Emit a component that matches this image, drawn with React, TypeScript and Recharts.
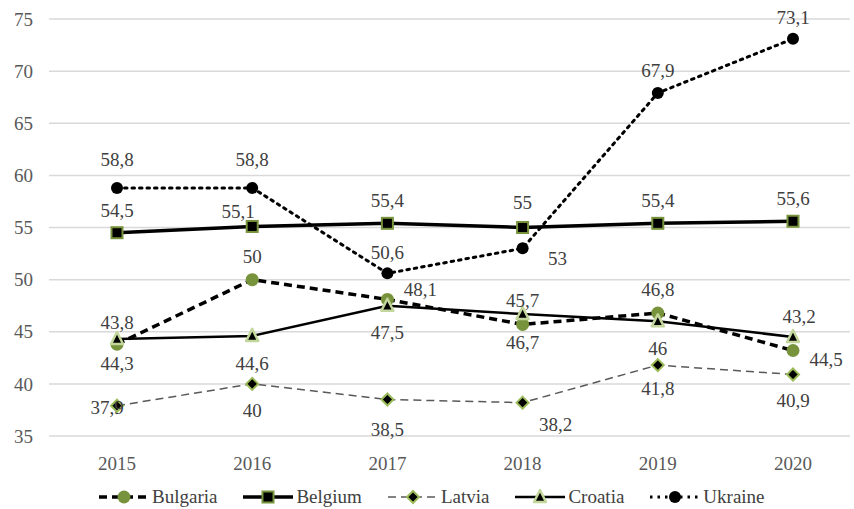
import { CartesianGrid, LabelList, Line, LineChart, XAxis, YAxis } from "recharts";

document.body.style.margin = "0";

const years = ["2015", "2016", "2017", "2018", "2019", "2020"];
const bulgaria = [43.8, 50, 48.1, 45.7, 46.8, 43.2];
const belgium = [54.5, 55.1, 55.4, 55, 55.4, 55.6];
const latvia = [37.9, 40, 38.5, 38.2, 41.8, 40.9];
const croatia = [44.3, 44.6, 47.5, 46.7, 46, 44.5];
const ukraine = [58.8, 58.8, 50.6, 53, 67.9, 73.1];
const yTicks = [35, 40, 45, 50, 55, 60, 65, 70, 75];

const data = years.map((year, i) => ({
  year,
  Bulgaria: bulgaria[i],
  Belgium: belgium[i],
  Latvia: latvia[i],
  Croatia: croatia[i],
  Ukraine: ukraine[i],
}));

// label placement (dx, dy from the point), as placed by hand in the original
const labelOffsets: Record<string, [number, number][]> = {
  Bulgaria: [[0, -22], [0, -23], [33, -10], [0, -24], [0, -23], [6, -34]],
  Belgium: [[0, -22], [-14, -15], [0, -23], [0, -25], [0, -23], [0, -23]],
  Latvia: [[-10, 2], [0, 27], [0, 30], [33, 22], [0, 23], [0, 26]],
  Croatia: [[0, 24], [0, 28], [0, 27], [0, 28], [0, 27], [33, 23]],
  Ukraine: [[0, -28], [0, -28], [0, -21], [35, 10], [0, -23], [0, -21]],
};

const FONT = '"Liberation Serif", "DejaVu Serif", serif';
const TEXT = "#404040";
const GREEN = "#77933C";

const fmt = (v: number) => String(v).replace(".", ",");

function Marker({ kind, cx, cy }: { kind: string; cx: number; cy: number }) {
  if (kind === "Bulgaria") return <circle cx={cx} cy={cy} r={6.5} fill={GREEN} />;
  if (kind === "Belgium")
    return <rect x={cx - 5.5} y={cy - 5.5} width={11} height={11} fill="#000" stroke={GREEN} strokeWidth={2} />;
  if (kind === "Latvia")
    return (
      <polygon
        points={`${cx},${cy - 6} ${cx + 6},${cy} ${cx},${cy + 6} ${cx - 6},${cy}`}
        fill="#000"
        stroke="#9BBB59"
        strokeWidth={2}
      />
    );
  if (kind === "Croatia")
    return (
      <polygon
        points={`${cx},${cy - 7} ${cx + 6},${cy + 5} ${cx - 6},${cy + 5}`}
        fill="#000"
        stroke="#C3D69B"
        strokeWidth={2.5}
        strokeLinejoin="round"
      />
    );
  return <circle cx={cx} cy={cy} r={6} fill="#000" />;
}

const series = [
  { key: "Bulgaria", stroke: "#000", width: 3.5, dash: "8 5" },
  { key: "Belgium", stroke: "#000", width: 3.5, dash: undefined },
  { key: "Latvia", stroke: "#595959", width: 1.5, dash: "8 5" },
  { key: "Croatia", stroke: "#000", width: 2.5, dash: undefined },
  { key: "Ukraine", stroke: "#000", width: 3, dash: "2.5 5" },
];

function makeLabel(key: string) {
  return (props: any) => {
    const { x, y, value, index } = props;
    if (x == null || y == null) return null;
    const [dx, dy] = labelOffsets[key][index] ?? [0, -20];
    return (
      <text
        key={`${key}-${index}`}
        x={Number(x) + dx}
        y={Number(y) + dy}
        textAnchor="middle"
        dominantBaseline="central"
        style={{ fontFamily: FONT, fontSize: 19 }}
        fill={TEXT}
      >
        {fmt(Number(value))}
      </text>
    );
  };
}

function LegendIcon({ s }: { s: (typeof series)[number] }) {
  return (
    <svg width={52} height={16} style={{ display: "block" }}>
      <line x1={1} y1={8} x2={51} y2={8} stroke={s.stroke} strokeWidth={s.width} strokeDasharray={s.dash} />
      <Marker kind={s.key} cx={26} cy={8} />
    </svg>
  );
}

export default function App() {
  return (
    <div style={{ position: "relative", width: 854, height: 509, background: "#fff", fontFamily: FONT }}>
      <LineChart width={854} height={509} data={data} margin={{ top: 19, right: 4, bottom: 0, left: 0 }}>
        <CartesianGrid vertical={false} stroke="#d9d9d9" strokeWidth={1.5} />
        <XAxis
          dataKey="year"
          axisLine={false}
          tickLine={false}
          tickSize={0}
          tickMargin={21}
          height={73}
          padding={{ left: 68, right: 57 }}
          tick={{ fontFamily: FONT, fontSize: 19, fill: "#595959" }}
        />
        <YAxis
          domain={[35, 75]}
          ticks={yTicks}
          axisLine={false}
          tickLine={false}
          tickSize={0}
          tickMargin={16}
          width={49}
          tick={{ fontFamily: FONT, fontSize: 19, fill: "#595959" }}
        />
        {series.map((s) => (
          <Line
            key={s.key}
            dataKey={s.key}
            stroke={s.stroke}
            strokeWidth={s.width}
            strokeDasharray={s.dash}
            strokeLinecap={s.key === "Ukraine" ? "round" : "butt"}
            dot={(p: any) => <Marker key={`${s.key}-d-${p.index}`} kind={s.key} cx={p.cx} cy={p.cy} />}
            activeDot={false}
            isAnimationActive={false}
          >
            <LabelList dataKey={s.key} content={makeLabel(s.key)} />
          </Line>
        ))}
      </LineChart>
      <div
        style={{
          position: "absolute",
          left: 98,
          top: 486,
          display: "flex",
          alignItems: "center",
          fontFamily: FONT,
          fontSize: 19,
          color: TEXT,
          lineHeight: "22px",
        }}
      >
        {series.map((s) => (
          <div key={s.key} style={{ display: "flex", alignItems: "center", marginRight: 25 }}>
            <LegendIcon s={s} />
            <span style={{ marginLeft: 2 }}>{s.key}</span>
          </div>
        ))}
      </div>
    </div>
  );
}
